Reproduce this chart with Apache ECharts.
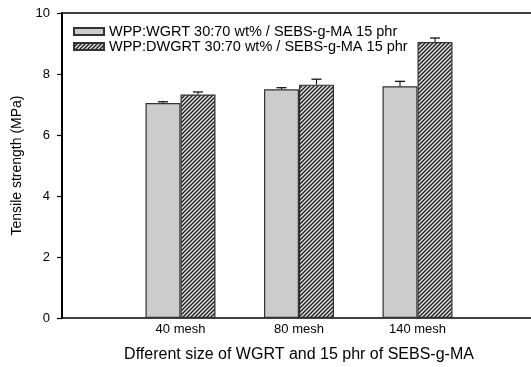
<!DOCTYPE html>
<html>
<head>
<meta charset="utf-8">
<script src="https://cdn.jsdelivr.net/npm/echarts@6/dist/echarts.min.js"></script>
<style>
  html, body { margin: 0; padding: 0; background: #fff; }
  #main { width: 531px; height: 367px; }
</style>
</head>
<body>
<div id="main"></div>
<script>
// categories (blank ends keep the bars away from the axis edges)
var categories = ['', '40 mesh', '80 mesh', '140 mesh', ''];
var wgrtValues = [null, 7.05, 7.50, 7.60, null];
var wgrtErrors = [null, 0.04, 0.05, 0.16, null];
var dwgrtValues = [null, 7.33, 7.65, 9.05, null];
var dwgrtErrors = [null, 0.08, 0.18, 0.13, null];
var yTicks = [0, 2, 4, 6, 8, 10];

var seriesNames = [
  'WPP:WGRT 30:70 wt% / SEBS-g-MA 15 phr',
  'WPP:DWGRT 30:70 wt% / SEBS-g-MA 15 phr'
];

// hatch pattern ////
function makeHatch() {
  var c = document.createElement('canvas');
  c.width = 4; c.height = 4;
  var ctx = c.getContext('2d');
  ctx.fillStyle = '#e4e4e4';
  ctx.fillRect(0, 0, 4, 4);
  ctx.strokeStyle = '#1e1e1e';
  ctx.lineWidth = 1.4;
  ctx.beginPath();
  ctx.moveTo(-1, 5); ctx.lineTo(5, -1);
  ctx.moveTo(-1, 1); ctx.lineTo(1, -1);
  ctx.moveTo(3, 5); ctx.lineTo(5, 3);
  ctx.stroke();
  return c;
}
var hatch = { image: makeHatch(), repeat: 'repeat' };

var barW = 35;

function errorSeries(values, errors, offset) {
  var data = [];
  for (var i = 0; i < values.length; i++) {
    if (values[i] != null) data.push([i, values[i], values[i] + errors[i]]);
  }
  return {
    type: 'custom',
    silent: true,
    z: 3,
    renderItem: function (params, api) {
      var lo = api.coord([api.value(0), api.value(1)]);
      var hi = api.coord([api.value(0), api.value(2)]);
      var x = lo[0] + offset;
      return {
        type: 'group',
        children: [
          { type: 'line', shape: { x1: x, y1: lo[1], x2: x, y2: hi[1] }, style: { stroke: '#000', lineWidth: 1 } },
          { type: 'line', shape: { x1: x - 5, y1: hi[1], x2: x + 5, y2: hi[1] }, style: { stroke: '#000', lineWidth: 1.2 } }
        ]
      };
    },
    encode: { x: 0, y: [1, 2] },
    data: data
  };
}

var chart = echarts.init(document.getElementById('main'));
chart.setOption({
  animation: false,
  textStyle: { fontFamily: 'Liberation Sans, Arial, sans-serif' },
  grid: {
    left: 62, top: 13, right: -5, bottom: 49,
    outerBoundsMode: 'none',
    containLabel: false
  },
  legend: {
    orient: 'vertical',
    left: 68, top: 19,
    itemWidth: 30, itemHeight: 7, itemGap: 0,
    icon: 'rect',
    textStyle: { fontSize: 14.5, lineHeight: 12, color: '#000' },
    data: seriesNames
  },
  xAxis: [{
    type: 'category',
    data: categories,
    boundaryGap: false,
    axisLine: { lineStyle: { color: '#000', width: 1.5 } },
    axisTick: { show: false },
    axisLabel: { color: '#000', fontSize: 13, margin: 5 },
    name: 'Dfferent size of WGRT and 15 phr of SEBS-g-MA',
    nameLocation: 'middle',
    nameGap: 29,
    nameTextStyle: { color: '#000', fontSize: 16 },
    splitLine: { show: false }
  }, {
    // top frame line
    type: 'category',
    position: 'top',
    data: categories,
    boundaryGap: false,
    axisLine: { lineStyle: { color: '#000', width: 1.5 } },
    axisTick: { show: false },
    axisLabel: { show: false },
    splitLine: { show: false }
  }],
  yAxis: {
    type: 'value',
    min: yTicks[0], max: yTicks[yTicks.length - 1], interval: 2,
    axisLine: { show: true, lineStyle: { color: '#000', width: 2 } },
    axisTick: { show: true, inside: false, length: 5, lineStyle: { color: '#000', width: 1.2 } },
    axisLabel: { color: '#000', fontSize: 13, margin: 12 },
    splitLine: { show: false },
    name: 'Tensile strength (MPa)',
    nameLocation: 'middle',
    nameGap: 32,
    nameTextStyle: { color: '#000', fontSize: 14 }
  },
  series: [
    {
      name: seriesNames[0],
      type: 'bar',
      data: wgrtValues,
      barWidth: barW,
      barGap: '0%',
      itemStyle: { color: '#cccccc', borderColor: '#333', borderWidth: 1.2 }
    },
    {
      name: seriesNames[1],
      type: 'bar',
      data: dwgrtValues,
      barWidth: barW,
      barGap: '0%',
      itemStyle: { color: hatch, borderColor: '#333', borderWidth: 1.2 }
    },
    errorSeries(wgrtValues, wgrtErrors, -barW / 2),
    errorSeries(dwgrtValues, dwgrtErrors, barW / 2)
  ]
});
</script>
</body>
</html>
